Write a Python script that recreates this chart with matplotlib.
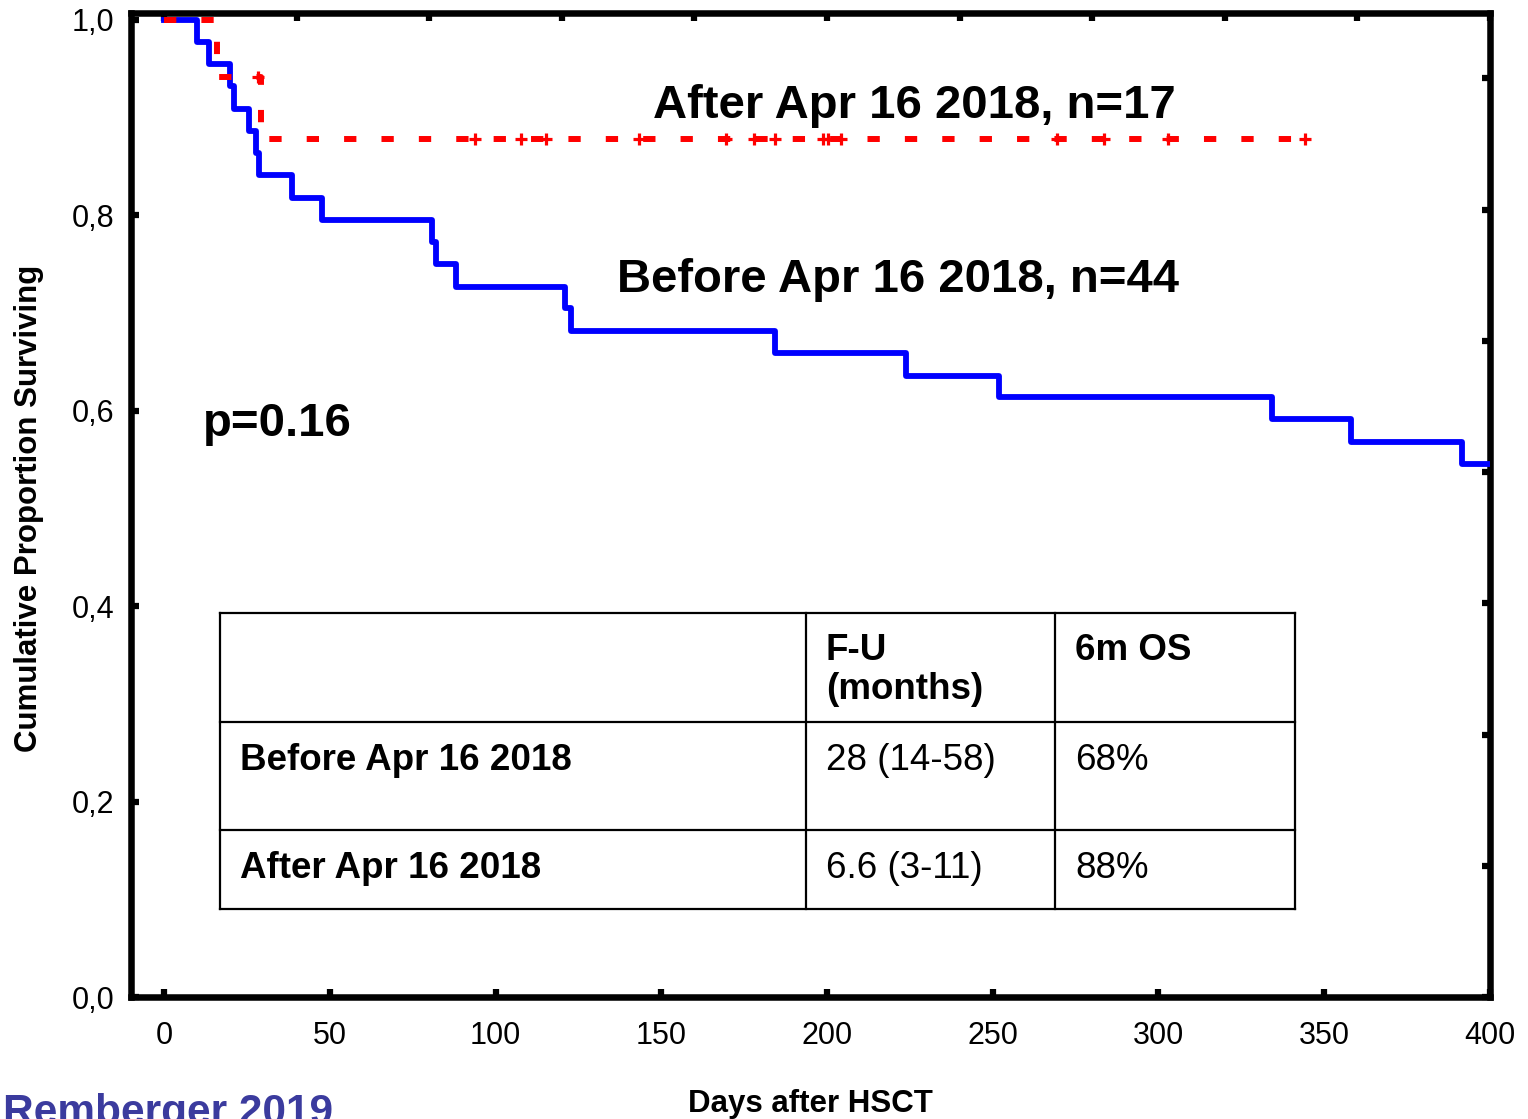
import numpy as np
import matplotlib
matplotlib.use("Agg")
import matplotlib.pyplot as plt

plt.rcParams['font.family'] = ['Liberation Sans', 'DejaVu Sans']

# --- Data ---
# Before Apr 16 2018 (n=44): event days and survival after each step
before_days = [0, 10, 13.6, 20, 21, 25.7, 27.7, 28.7, 38.7, 47.7, 80.9, 82, 88,
               120.8, 122.8, 184.2, 223.7, 251.9, 334.1, 358.2, 391.5, 410]
before_surv = [1.0, 0.977, 0.955, 0.932, 0.909, 0.886, 0.864, 0.841, 0.818, 0.795,
               0.773, 0.750, 0.727, 0.705, 0.682, 0.659, 0.636, 0.614, 0.591,
               0.568, 0.545, 0.545]

# After Apr 16 2018 (n=17)
after_days = [0, 16, 29.2, 344.2]
after_surv = [1.0, 0.941, 0.878, 0.878]
after_censored = [28.4, 93.9, 107.6, 115.2, 143.4, 169.6, 178.1, 184.2, 198.7,
                  200.2, 204.2, 269.4, 283.6, 302.9, 344.2]

xticks = [0, 50, 100, 150, 200, 250, 300, 350, 400]
yticks = [0.0, 0.2, 0.4, 0.6, 0.8, 1.0]
ytick_labels = ['0,0', '0,2', '0,4', '0,6', '0,8', '1,0']

table_rows = ['', 'Before Apr 16 2018', 'After Apr 16 2018']
table_fu = ['F-U', '28 (14-58)', '6.6 (3-11)']
table_os = ['6m OS', '68%', '88%']


def surv_at(days, surv, t):
    idx = np.searchsorted(days, t, side='right') - 1
    return np.array(surv)[idx]


fig = plt.figure(figsize=(15.28, 11.19), dpi=100)
ax = fig.add_axes([0.0857, 0.1090, 0.8894, 0.8794])

ax.step(before_days, before_surv, where='post', color='#0000ff', lw=4.2,
        solid_joinstyle='round', zorder=3)
ax.step(after_days, after_surv, where='post', color='#ff0000', lw=4.3,
        dashes=(2.06, 4.2), zorder=4)
cens_y = surv_at(after_days, after_surv, np.array(after_censored))
ax.plot(after_censored, cens_y, linestyle='none', marker='+', color='#ff0000',
        markersize=9, markeredgewidth=2.3, zorder=5)

ax.set_xlim(-10, 400)
ax.set_ylim(0, 1.007)
ax.set_xticks(xticks)
ax.set_yticks(yticks)
ax.set_yticklabels(ytick_labels)
ax.tick_params(direction='in', length=5.5, width=4.5, labelsize=22)
ax.tick_params(axis='x', pad=17)
ax.tick_params(axis='y', pad=12)
for s in ax.spines.values():
    s.set_linewidth(4.7)

# extra ticks on top and right (no labels)
top = ax.secondary_xaxis('top')
top.set_xticks(np.arange(0, 401, 40))
top.tick_params(direction='in', length=5.5, width=4.5, labeltop=False)
top.spines['top'].set_visible(False)
right = ax.secondary_yaxis('right')
right.set_yticks(np.linspace(0, 0.94, 8))
right.tick_params(direction='in', length=5.5, width=4.5, labelright=False)
right.spines['right'].set_visible(False)

ax.set_xlabel('Days after HSCT', fontsize=22.5, fontweight='bold')
ax.xaxis.set_label_coords(0.5, -0.093)
ax.set_ylabel('Cumulative Proportion Surviving', fontsize=22.5, fontweight='bold')
ax.yaxis.set_label_coords(-0.064, 0.497)

# curve labels
ax.text(226.4, 0.9, 'After Apr 16 2018, n=17', fontsize=34, fontweight='bold',
        ha='center', va='baseline')
ax.text(221.3, 0.7216, 'Before Apr 16 2018, n=44', fontsize=34, fontweight='bold',
        ha='center', va='baseline')
ax.text(11.8, 0.5742, 'p=0.16', fontsize=34, fontweight='bold',
        ha='left', va='baseline')

# summary table
tx = ax.transAxes
col_x = [0.0655, 0.4967, 0.680, 0.8565]
row_y = [0.3902, 0.2795, 0.1697, 0.0894]
for xv in col_x:
    ax.plot([xv, xv], [row_y[0], row_y[-1]], color='black', lw=1.6, transform=tx,
            solid_capstyle='projecting', zorder=6)
for yv in row_y:
    ax.plot([col_x[0], col_x[-1]], [yv, yv], color='black', lw=1.6, transform=tx,
            solid_capstyle='projecting', zorder=6)

base_y = [0.3425, 0.2307, 0.1209]
for i in range(3):
    if table_rows[i]:
        ax.text(0.0802, base_y[i], table_rows[i], transform=tx, fontsize=26.5,
                fontweight='bold', va='baseline')
    w = 'bold' if i == 0 else 'normal'
    ax.text(0.5114, base_y[i], table_fu[i], transform=tx, fontsize=26.5,
            fontweight=w, va='baseline')
    ax.text(0.6946, base_y[i], table_os[i], transform=tx, fontsize=26.5,
            fontweight=w, va='baseline')
ax.text(0.5114, 0.3025, '(months)', transform=tx, fontsize=26.5,
        fontweight='bold', va='baseline')

fig.text(3 / 1528, 1 - 1124 / 1119, 'Remberger 2019', fontsize=30.5,
         fontweight='bold', color='#3b3b9e', ha='left', va='baseline')

fig.savefig('out.png', dpi=100)
